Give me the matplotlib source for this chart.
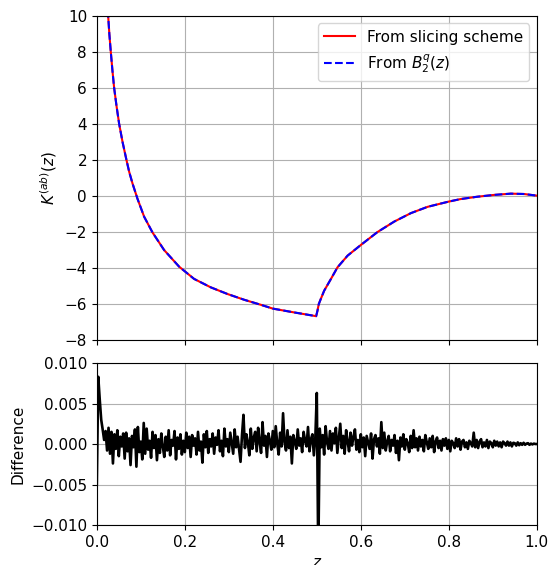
import numpy as np
import matplotlib
matplotlib.use('Agg')
import matplotlib.pyplot as plt

plt.rcParams['font.size'] = 11

# curve
z_curve = [0.022, 0.0258, 0.0285, 0.0318, 0.0354, 0.0394, 0.0448, 0.0508, 0.0585, 0.0674,
           0.0735, 0.0811, 0.0924, 0.1076, 0.1265, 0.153, 0.187, 0.221, 0.259, 0.297,
           0.335, 0.373, 0.4, 0.448, 0.4985,
           0.5015, 0.5045, 0.509, 0.5167, 0.532, 0.547, 0.57, 0.6, 0.638, 0.676,
           0.714, 0.752, 0.8, 0.827, 0.865, 0.903, 0.941, 0.971, 1.0]
k_slicing = [11.5, 10.0, 9.0, 8.0, 7.0, 6.0, 5.0, 4.0, 3.0, 2.0,
             1.35, 0.7, -0.15, -1.15, -2.02, -3.0, -3.92, -4.6, -5.07, -5.44,
             -5.76, -6.04, -6.25, -6.46, -6.67,
             -6.37, -6.0, -5.72, -5.26, -4.61, -3.96, -3.31, -2.72, -2.0, -1.42,
             -0.95, -0.6, -0.31, -0.17, -0.04, 0.06, 0.13, 0.11, 0.02]
k_b2q = list(k_slicing)

# difference (units of 1e-3)
diff_e3 = [
    -5.0, 8.3, 5.5, 3.0, 1.8, 0.5, 1.6, -0.8, 2.0, -1.2, 1.5, -2.4, 1.2, -0.6, 1.7, -1.5, 0.9, -0.3, 1.3, -1.8,
    1.4, -0.9, 0.7, -2.6, 1.0, -0.4, 1.8, -2.8, 2.1, -1.0, 0.3, -1.9, 2.6, -1.2, 1.9, -0.7, 0.4, -1.7, 1.5, -0.5,
    1.1, -2.0, 0.6, -1.1, 1.3, -0.3, -1.6, 0.9, -0.8, 1.7, -1.4, 0.5, -0.2, 1.6, -1.9, 0.8, -0.6, 1.2, -1.3, 0.4,
    -1.0, 1.4, -0.5, 0.9, -1.6, 1.1, -0.2, 0.7, -1.3, 1.5, -0.8, 0.3, -2.3, 1.2, -0.4, 1.6, -1.1, 0.6, -0.3, 1.3,
    -1.2, 0.8, -0.1, 1.7, -0.9, 0.4, -1.5, 1.9, -0.3, 0.6, -1.0, 1.4, 0.1, -1.2, 1.8, -0.4, 0.9, -0.7, -2.2, 1.1,
    3.6, -0.5, 1.2, 0.2, -1.4, 1.9, -0.6, 0.8, 1.5, -0.9, 2.0, 0.3, -1.1, 2.7, -0.2, 1.0, -1.6, 1.3, 0.4, -0.7,
    1.6, -0.4, 2.2, 0.1, -1.3, 1.4, -0.3, 3.8, 0.2, -0.8, 1.7, -0.5, 0.9, -2.4, 1.1, 0.3, -0.6, 1.8, -0.2, 0.7,
    -1.0, 1.5, 0.4, -0.3, 2.1, -0.9, 0.6, 1.2, -1.4, 0.8, 6.3, -14.0, 1.9, -0.4, 1.1, -1.3, 2.2, 0.2, -0.6, 1.6,
    -0.8, 1.3, 0.1, 2.0, -1.1, 0.7, 2.5, -0.5, 1.0, -1.2, 1.7, 0.3, -0.9, 1.4, -0.2, 0.9, 1.8, -0.7, 0.5, -1.0,
    1.2, -0.4, 0.8, -1.5, 1.0, 0.2, -0.6, 1.3, -1.8, 0.6, 1.1, -0.3, 0.7, -1.2, 2.7, -0.5, 1.4, -0.8, 0.3, 1.0,
    -0.9, 0.5, -0.2, 1.1, -1.1, 0.4, -2.0, 0.8, -0.3, 1.2, -0.7, 0.6, 0.1, -1.0, 1.0, -0.5, 1.7, -0.4, 0.7, -0.8,
    0.9, -0.3, 0.5, -0.9, 1.1, 0.2, -0.6, 0.7, -0.4, 1.0, -1.0, 0.3, 0.8, -0.5, 0.4, -0.8, 0.6, -0.2, 0.7, -0.6,
    0.5, -0.9, 0.4, 0.1, -0.5, 0.7, -0.3, 0.6, -0.7, 0.3, 0.5, -0.4, 0.2, -0.6, 0.4, 0.1, -0.3, 1.4, -0.4, 0.5,
    -0.5, 0.3, 0.6, -0.4, 0.2, -0.3, 0.5, -0.5, 0.3, 0.1, -0.4, 0.4, -0.2, 0.3, -0.3, 0.2, -0.4, 0.3, 0.1, -0.2,
    0.3, -0.2, 0.2, -0.3, 0.15, 0.1, -0.2, 0.2, -0.15, 0.1, -0.1, 0.15, -0.1, 0.05, 0.1, -0.1, 0.05, -0.05, 0.05, 0.0,
    0.0]
z_diff = np.linspace(0, 1, len(diff_e3))
diff = np.array(diff_e3) * 1e-3

fig = plt.figure(figsize=(5.5, 5.65), dpi=100)
ax1 = fig.add_axes([0.176, 0.398, 0.8, 0.574])
ax2 = fig.add_axes([0.176, 0.0708, 0.8, 0.2867], sharex=ax1)

ax1.plot(z_curve, k_slicing, color='red', lw=1.5, label='From slicing scheme')
ax1.plot(z_curve, k_b2q, color='blue', ls='--', lw=1.5, label=r'From $B_2^q(z)$')
ax1.set_ylim(-8, 10)
ax1.set_yticks(np.arange(-8, 11, 2))
ax1.set_ylabel(r'$K^{(ab)}(z)$')
ax1.grid(True)
ax1.legend(loc='upper right')
ax1.tick_params(labelbottom=False)

ax2.plot(z_diff, diff, color='black', lw=1.9)
ax2.set_xlim(0, 1)
ax2.set_ylim(-0.01, 0.01)
ax2.set_yticks([-0.01, -0.005, 0, 0.005, 0.01])
ax2.set_ylabel('Difference')
ax2.set_xlabel(r'$z$')
ax2.grid(True)

fig.savefig('out.png', dpi=100)
